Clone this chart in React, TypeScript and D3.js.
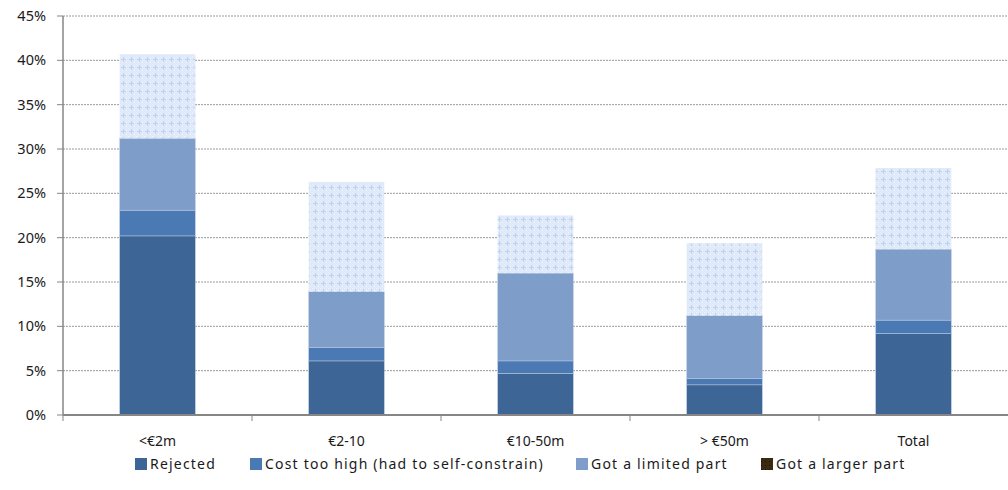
import React from "react";
import * as d3 from "d3";

const categories = ["<€2m", "€2-10", "€10-50m", "> €50m", "Total"];
const seriesNames = [
  "Rejected",
  "Cost too high (had to self-constrain)",
  "Got a limited part",
  "Got a larger part",
];
const rejected = [20.2, 6.1, 4.7, 3.4, 9.2];
const costTooHigh = [2.9, 1.5, 1.4, 0.7, 1.5];
const limitedPart = [8.1, 6.3, 9.9, 7.1, 8.0];
const largerPart = [9.5, 12.4, 6.5, 8.15, 9.15];
const yTicks = [0, 5, 10, 15, 20, 25, 30, 35, 40, 45];

const colors = ["#3d6595", "#4a79b3", "#7f9dc9", "url(#dots)"];
const legendColors = ["#3d6595", "#4a79b3", "#7f9dc9", "url(#darkdots)"];
const legendX = [135, 250, 576, 761];

const width = 1008;
const height = 490;
const margin = { left: 63, right: 0, top: 16, bottom: 75 };

export default function App() {
  const x = d3
    .scaleBand()
    .domain(categories)
    .range([margin.left, width - margin.right])
    .paddingInner(0.6)
    .paddingOuter(0.3);
  const y = d3
    .scaleLinear()
    .domain([0, 45])
    .range([height - margin.bottom, margin.top]);

  const rows = categories.map((c, i) => ({
    cat: c,
    s0: rejected[i],
    s1: costTooHigh[i],
    s2: limitedPart[i],
    s3: largerPart[i],
  }));
  const stack = d3.stack<any>().keys(["s0", "s1", "s2", "s3"])(rows);
  const font = "'Noto Sans', 'Open Sans', sans-serif";
  const step = x.step();

  return (
    <svg
      width={width}
      height={height}
      style={{ position: "absolute", left: 0, top: 0, background: "#fff" }}
    >
      <defs>
        <pattern id="dots" width="8" height="8" patternUnits="userSpaceOnUse">
          <rect width="8" height="8" fill="#dfe9f8" />
          <rect x="0" y="0" width="1" height="1" fill="#eef3fc" />
          <rect x="2" y="6" width="1" height="1" fill="#eef3fc" />
          <rect x="6" y="2" width="1" height="1" fill="#eef3fc" />
          <rect x="6" y="6" width="1" height="1" fill="#eef3fc" />
          <rect x="3" y="1" width="1" height="5" fill="#bcd2f2" />
          <rect x="1" y="3" width="5" height="1" fill="#bcd2f2" />
        </pattern>
        <pattern id="darkdots" width="4" height="4" patternUnits="userSpaceOnUse">
          <rect width="4" height="4" fill="#3b2a12" />
          <rect x="1" y="1" width="1" height="1" fill="#1a1208" />
        </pattern>
      </defs>

      {/* gridlines */}
      {yTicks.map((t) => (
        <line
          key={"g" + t}
          x1={margin.left}
          x2={width}
          y1={y(t)}
          y2={y(t)}
          stroke="#9a9a9a"
          strokeWidth={1}
          strokeDasharray="2,1"
        />
      ))}

      {/* bars */}
      {stack.map((layer, li) => (
        <g key={"l" + li}>
          {layer.map((d, i) => (
            <rect
              key={i}
              x={x(categories[i])}
              width={x.bandwidth()}
              y={y(d[1])}
              height={y(d[0]) - y(d[1])}
              fill={colors[li]}
              stroke={li === 3 ? "none" : "#b9c9e0"}
              strokeWidth={0.5}
            />
          ))}
        </g>
      ))}

      {/* y axis */}
      <line
        x1={margin.left}
        x2={margin.left}
        y1={margin.top}
        y2={y(0)}
        stroke="#868686"
        strokeWidth={1.5}
      />
      {yTicks.map((t) => (
        <g key={"t" + t}>
          <line
            x1={margin.left - 6}
            x2={margin.left}
            y1={y(t)}
            y2={y(t)}
            stroke="#868686"
            strokeWidth={1}
          />
          <text
            x={46}
            y={y(t) + 5}
            textAnchor="end"
            fontFamily={font}
            fontSize={14.5}
            fill="#1a1a1a"
          >
            {t}%
          </text>
        </g>
      ))}

      {/* x axis */}
      <line
        x1={margin.left}
        x2={width}
        y1={y(0)}
        y2={y(0)}
        stroke="#868686"
        strokeWidth={2}
      />
      {categories.map((c, i) => (
        <line
          key={"xt" + i}
          x1={margin.left + step * i}
          x2={margin.left + step * i}
          y1={y(0)}
          y2={y(0) + 6}
          stroke="#868686"
          strokeWidth={1}
        />
      ))}
      {categories.map((c) => (
        <text
          key={"xl" + c}
          x={(x(c) as number) + x.bandwidth() / 2}
          y={446}
          textAnchor="middle"
          fontFamily={font}
          fontSize={14}
          fill="#1a1a1a"
        >
          {c}
        </text>
      ))}

      {/* legend */}
      {seriesNames.map((s, i) => (
        <g key={"lg" + i}>
          <rect
            x={legendX[i]}
            y={458}
            width={12}
            height={12}
            fill={legendColors[i]}
          />
          <text
            x={legendX[i] + 15}
            y={469}
            fontFamily={font}
            fontSize={14}
            letterSpacing={1.2}
            fill="#1a1a1a"
          >
            {s}
          </text>
        </g>
      ))}
    </svg>
  );
}
